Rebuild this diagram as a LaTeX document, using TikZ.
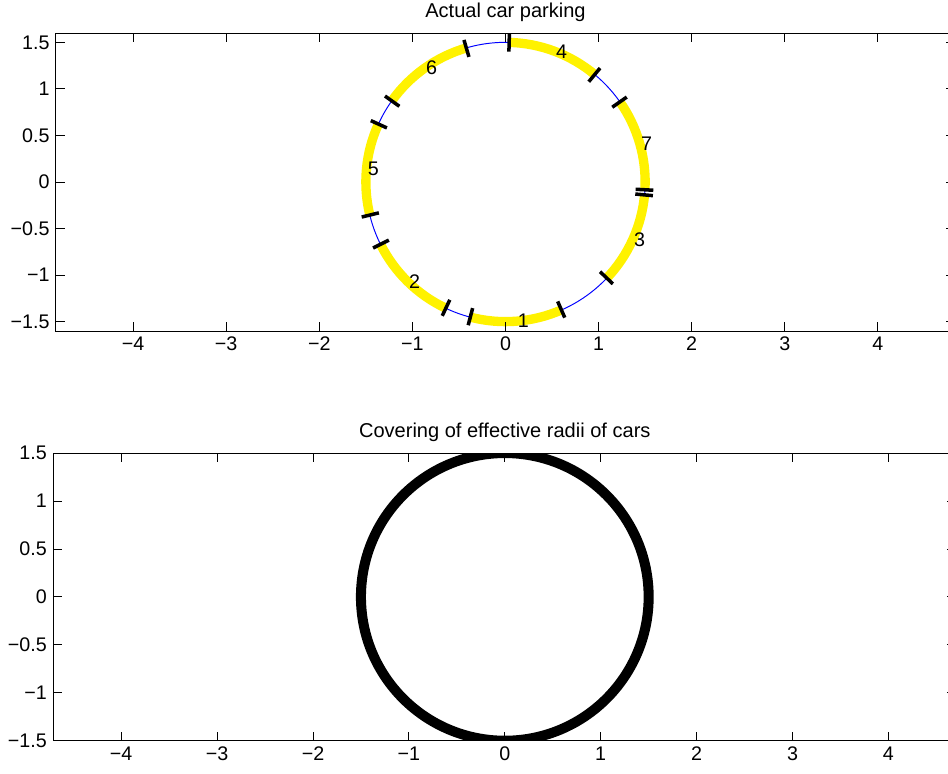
\documentclass[tikz,border=0pt]{standalone}
\usepackage{fontspec}
\setmainfont{Liberation Sans}
\tikzset{
  axisframe/.style={line width=0.5pt},
  ticklab/.style={font=\fontsize{11.2}{13}\selectfont, inner sep=0pt},
  plottitle/.style={font=\fontsize{11.4}{13}\selectfont, inner sep=0pt, anchor=base},
  carlab/.style={font=\fontsize{11.2}{13}\selectfont, inner sep=0.6pt, anchor=west},
  carseg/.style={yellow, line width=5.3pt},
  carmark/.style={line width=2pt},
}
\begin{document}
\begin{tikzpicture}
  \useasboundingbox (0,0) rectangle (18.96,15.48);
  \clip (0,0) rectangle (18.96,15.48);
  % upper axes
  \begin{scope}[shift={(10.11,11.84)}, x=1.862cm, y=1.862cm]
    \begin{scope}
      \clip (-4.83,-1.6) rectangle (4.83,1.6);
      \draw[blue, line width=0.55pt] (0,0) circle (1.5);
      \foreach \a/\lab in {255.4/1, 206.5/2, 316.5/3, 50.3/4, 155.5/5, 106.3/6, -3.2/7} {
        \draw[carseg] (\a:1.5) arc[start angle=\a, delta angle=38.2, radius=1.5];
        \draw[carmark] (\a:1.4) -- (\a:1.59);
        \draw[carmark] (\a+38.2:1.4) -- (\a+38.2:1.59);
        \node[carlab] (car\lab) at (\a+19.1:1.5) {\lab};
      }
    \end{scope}
    \draw[axisframe] (-4.83,-1.6) rectangle (4.83,1.6);
    \foreach \x/\lab [count=\i] in {-4/−4, -3/−3, -2/−2, -1/−1, 0/0, 1/1, 2/2, 3/3, 4/4} {
      \draw[axisframe] (\x,-1.6) -- ++(0,0.18cm) (\x,1.6) -- ++(0,-0.18cm);
      \node[ticklab, anchor=base, yshift=-0.4cm] (xa\i) at (\x,-1.6) {\lab};
    }
    \foreach \y/\lab [count=\i] in {-1.5/−1.5, -1/−1, -0.5/−0.5, 0/0, 0.5/0.5, 1/1, 1.5/1.5} {
      \draw[axisframe] (-4.83,\y) -- ++(0.18cm,0) (4.83,\y) -- ++(-0.18cm,0);
      \node[ticklab, anchor=east, xshift=-0.12cm] (ya\i) at (-4.83,\y) {\lab};
    }
    \node[plottitle, yshift=0.32cm] (ttla) at (0,1.6) {Actual car parking};
  \end{scope}
  % lower axes
  \begin{scope}[shift={(10.096,3.542)}, x=1.918cm, y=1.918cm]
    \begin{scope}
      \clip (-4.71,-1.5) rectangle (4.71,1.5);
      \draw[line width=5.7pt] (0,0) circle (1.5);
    \end{scope}
    \draw[axisframe] (-4.71,-1.5) rectangle (4.71,1.5);
    \foreach \x/\lab [count=\i] in {-4/−4, -3/−3, -2/−2, -1/−1, 0/0, 1/1, 2/2, 3/3, 4/4} {
      \draw[axisframe] (\x,-1.5) -- ++(0,0.18cm) (\x,1.5) -- ++(0,-0.18cm);
      \node[ticklab, anchor=base, yshift=-0.4cm] (xb\i) at (\x,-1.5) {\lab};
    }
    \foreach \y/\lab [count=\i] in {-1.5/−1.5, -1/−1, -0.5/−0.5, 0/0, 0.5/0.5, 1/1, 1.5/1.5} {
      \draw[axisframe] (-4.71,\y) -- ++(0.18cm,0) (4.71,\y) -- ++(-0.18cm,0);
      \node[ticklab, anchor=east, xshift=-0.12cm] (yb\i) at (-4.71,\y) {\lab};
    }
    \node[plottitle, yshift=0.32cm] (ttlb) at (0,1.5) {Covering of effective radii of cars};
  \end{scope}
\end{tikzpicture}
\end{document}
